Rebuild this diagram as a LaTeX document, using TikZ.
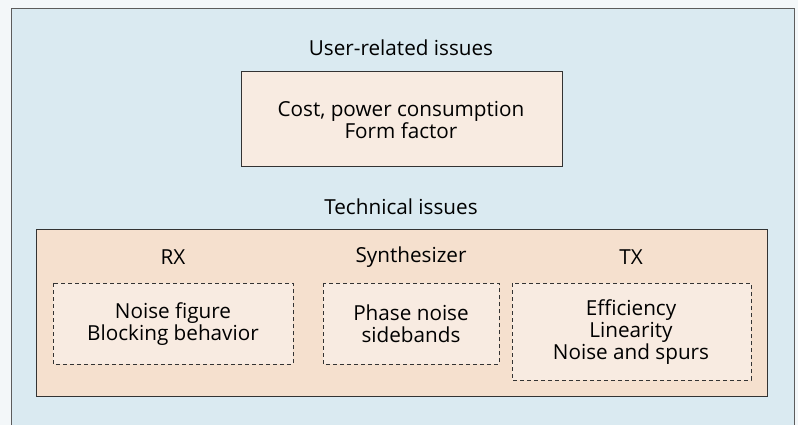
\documentclass[tikz,border=0pt]{standalone}
\usepackage{fontspec}
\setmainfont{Open Sans}
\definecolor{pagebg}{HTML}{F3F7F9}
\definecolor{outerfill}{HTML}{DAEAF1}
\definecolor{userfill}{HTML}{F8EBE1}
\definecolor{techfill}{HTML}{F5E0CE}
\definecolor{innerfill}{HTML}{F8EBE1}
\definecolor{edge}{HTML}{333333}
\begin{document}
\begin{tikzpicture}[x=1pt,y=-1pt,
  lbl/.style={font=\fontsize{20.7}{21.7}\selectfont, text=black, align=center, inner sep=0pt},
  solidbox/.style={draw=edge, line width=0.9pt},
  dashbox/.style={draw=edge, line width=0.8pt, dash pattern=on 4pt off 3pt, fill=innerfill}]
\fill[pagebg] (0,0) rectangle (798,425);
\useasboundingbox (0,0) rectangle (798,425);
\path[fill=outerfill] (11,8) rectangle (794,430);
\draw[edge!80, line width=0.9pt] (11,430) -- (11,8) -- (794,8) -- (794,430);
\node[lbl] (usert) at (401,48) {User-related issues};
\draw[solidbox, fill=userfill] (241,71) rectangle (562,166);
\node[lbl] (user) at (401,120) {Cost, power consumption\\Form factor};
\node[lbl] (techt) at (401,207) {Technical issues};
\draw[solidbox, fill=techfill] (36,229) rectangle (767,396);
\node[lbl] (rxt) at (173,257) {RX};
\node[lbl] (synt) at (411,257) {Synthesizer};
\node[lbl] (txt) at (631,257) {TX};
\draw[dashbox] (53,283) rectangle (293,364);
\node[lbl] (rx) at (173,324) {Noise figure\\Blocking behavior};
\draw[dashbox] (323,283) rectangle (499,364);
\node[lbl] (syn) at (411,324) {Phase noise\\sidebands};
\draw[dashbox] (512,283) rectangle (751,380);
\node[lbl] (tx) at (631,332) {Efficiency\\Linearity\\Noise and spurs};
\end{tikzpicture}
\end{document}
